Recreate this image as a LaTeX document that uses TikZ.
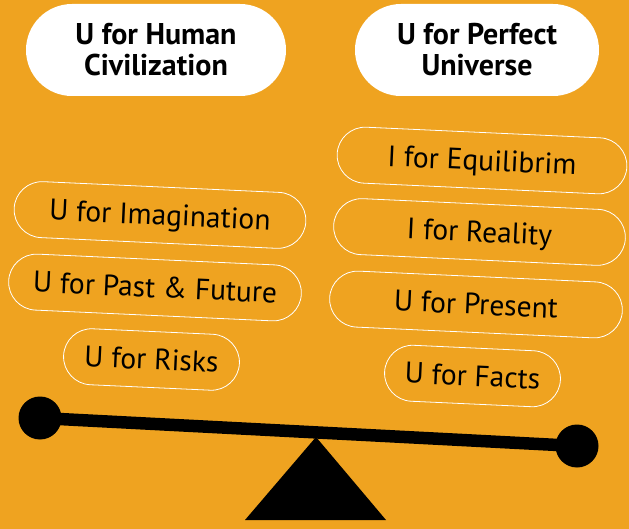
\documentclass[tikz,border=0pt]{standalone}
\usepackage{fontspec}
\setmainfont{PT Sans}
\definecolor{bg}{HTML}{EFA320}
\begin{document}
\begin{tikzpicture}[x=1pt,y=-1pt,
  titlebox/.style={fill=white, rounded corners=46pt, minimum height=92pt, inner sep=0pt, align=center,
    font=\fontsize{30}{31}\selectfont\bfseries},
  pill/.style={draw=white, line width=0.8pt, rounded corners=28pt, minimum height=56pt, inner sep=0pt,
    rotate=-2.6, text height=20pt, text depth=0pt, font=\fontsize{29.5}{31}\selectfont},
  ball/.style={circle, fill=black, minimum size=43pt, inner sep=0pt}]
\fill[bg] (0,0) rectangle (629,529);
\useasboundingbox (0,0) rectangle (629,529);
% titles
\node[titlebox, minimum width=260pt] (tl) at (156,50) {U for Human\\Civilization};
\node[titlebox, minimum width=244pt] (tr) at (477,50) {U for Perfect\\Universe};
% left pills
\node[pill, minimum width=292pt] (l1) at (160,215) {U for Imagination};
\node[pill, minimum width=293pt] (l2) at (155,287.5) {U for Past \& Future};
\node[pill, minimum width=176pt] (l3) at (151.5,359.5) {U for Risks};
% right pills
\node[pill, minimum width=290pt] (r1) at (482,160.5) {I for Equilibrim};
\node[pill, minimum width=292pt] (r2) at (479.5,232) {I for Reality};
\node[pill, minimum width=293pt] (r3) at (476,304.5) {U for Present};
\node[pill, minimum width=176pt] (r4) at (472.5,376) {U for Facts};
% seesaw
\coordinate (apex) at (316,437);
\coordinate (bl) at (245,520);
\coordinate (br) at (386,520);
\fill[black] (apex) -- (bl) -- (br) -- cycle;
\node[ball] (lb) at (40,418) {};
\node[ball] (rb) at (577,446) {};
\draw[line width=12.5pt] (lb.center) -- (rb.center);
\end{tikzpicture}
\end{document}
